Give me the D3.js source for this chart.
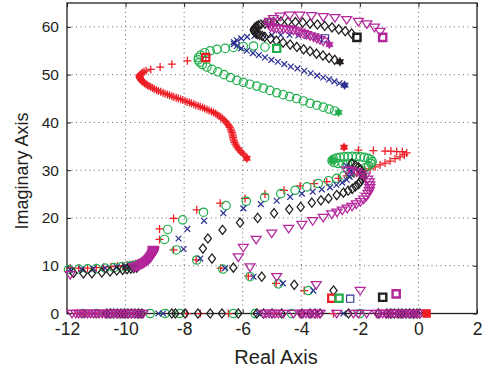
<!DOCTYPE html>
<html><head><meta charset="utf-8">
<script src="https://cdn.jsdelivr.net/npm/d3@7"></script>
<style>html,body{margin:0;padding:0;background:#fff;}svg{display:block;font-family:"Liberation Sans",Arial,Helvetica,sans-serif;}</style>
</head><body><svg id="c" width="484" height="373"></svg>
<script>
// ---------- DATA ----------
const xTicks = [-12,-10,-8,-6,-4,-2,0,2];
const yTicks = [0,10,20,30,40,50,60];

// red '+'
const redUp = [[-7.26,53.6],[-7.89,52.9],[-8.42,52.2],[-8.82,51.6],[-9.14,51.1],[-9.3,50.8],[-9.37,50.6],[-9.43,50.4],[-9.47,50.2],[-9.5,50.0],[-9.52,49.8],[-9.52,49.6],[-9.51,49.4],[-9.5,49.2],[-9.48,49.0],[-9.46,48.8],[-9.43,48.6],[-9.4,48.4],[-9.35,48.2],[-9.3,48.0],[-9.25,47.8],[-9.2,47.6],[-9.14,47.4],[-9.08,47.2],[-9.02,47.0],[-8.95,46.8],[-8.88,46.6],[-8.8,46.4],[-8.72,46.2],[-8.65,46.0],[-8.57,45.85],[-8.5,45.7],[-8.42,45.5],[-8.35,45.3],[-8.27,45.15],[-8.2,45.0],[-8.12,44.85],[-8.05,44.7],[-7.97,44.5],[-7.9,44.3],[-7.82,44.15],[-7.75,44.0],[-7.67,43.8],[-7.6,43.6],[-7.52,43.45],[-7.45,43.3],[-7.37,43.1],[-7.3,42.9],[-7.22,42.7],[-7.15,42.5],[-7.07,42.3],[-7.0,42.1],[-6.93,41.85],[-6.87,41.6],[-6.81,41.35],[-6.75,41.1],[-6.69,40.8],[-6.64,40.5],[-6.59,40.2],[-6.55,39.9],[-6.51,39.6],[-6.47,39.3],[-6.44,38.95],[-6.41,38.6],[-6.39,38.25],[-6.37,37.9],[-6.35,37.55],[-6.34,37.2],[-6.33,36.85],[-6.32,36.5],[-6.3,36.15],[-6.28,35.8],[-6.25,35.45],[-6.22,35.1],[-6.18,34.75],[-6.14,34.4],[-6.1,34.1],[-6.05,33.8],[-6.0,33.5],[-5.96,33.2]];
const redMid = [[-3.9,4.8],[-4.86,6.3],[-5.81,7.8],[-6.75,9.5],[-7.59,11.2],[-8.36,13.3],[-8.84,15.5],[-8.84,17.7],[-8.36,19.9],[-7.57,21.7],[-6.77,23.1],[-5.92,24.1],[-5.24,25.0],[-4.59,25.8],[-4.04,26.7],[-3.56,27.2],[-3.13,27.6],[-2.73,28.3],[-2.45,28.8],[-2.2,29.2],[-2.0,29.5],[-1.82,29.9],[-1.65,30.3],[-1.48,30.7],[-1.31,31.1],[-1.14,31.5],[-0.97,31.9],[-0.8,32.4],[-0.63,32.8],[-0.48,33.2],[-0.4,33.6],[-0.55,33.9],[-0.74,33.9],[-0.94,34.0],[-1.14,34.0],[-1.54,34.1],[-2.05,34.2]];
const redLeft = [[-11.89,9.5],[-11.6,9.5],[-11.3,9.5],[-11.0,9.6],[-10.75,9.7],[-10.5,9.8],[-10.28,9.9],[-10.1,10.0],[-9.95,10.1],[-9.85,10.2],[-9.75,10.3],[-9.66,10.4],[-9.58,10.5]];
const redReal = [-11.65,-11.52,-11.4,-11.28,-11.15,-11.02,-10.9,-10.78,-10.66,-10.55,-10.44,-10.33,-10.22,-10.1,-9.98,-9.86,-9.75,-9.64,-9.52,-9.42,-7.91,-7.45,-6.49,-4.84,-4.05,-2.9,-0.95,-0.75,-0.55,-0.35,-0.15];

// green 'o'
const greenUp = [[-5.24,55.8],[-5.63,56.0],[-5.98,55.9],[-6.32,55.7],[-6.6,55.5],[-6.88,55.3],[-7.11,55.0],[-7.3,54.6],[-7.44,54.1],[-7.51,53.6],[-7.52,53.1],[-7.47,52.6],[-7.38,52.1],[-7.22,51.6],[-7.05,51.1],[-6.85,50.6],[-6.64,50.0],[-6.42,49.4],[-6.2,48.8],[-5.98,48.4],[-5.76,48.0],[-5.52,47.6],[-5.3,47.2],[-5.07,46.7],[-4.84,46.2],[-4.62,45.8],[-4.4,45.4],[-4.16,45.0],[-3.93,44.5],[-3.7,44.0],[-3.47,43.6],[-3.25,43.2],[-3.05,42.8],[-2.86,42.4]];
const greenMid = [[-3.76,4.8],[-4.78,6.2],[-5.75,7.7],[-6.68,9.3],[-7.57,11.2],[-8.27,13.3],[-8.67,15.5],[-8.56,17.6],[-8.05,19.6],[-7.34,21.2],[-6.57,22.6],[-5.88,23.5],[-5.25,24.3],[-4.7,25.1],[-4.21,25.8],[-3.81,26.5],[-3.42,27.2],[-3.07,27.8],[-2.79,28.3],[-2.55,28.8],[-2.35,29.3],[-2.15,29.7],[-1.98,30.1],[-1.82,30.5],[-1.7,30.9],[-1.62,31.4],[-1.58,31.8],[-1.62,32.2],[-1.72,32.5],[-1.85,32.7],[-1.98,32.8],[-2.12,32.85],[-2.26,32.9],[-2.4,32.85],[-2.54,32.8],[-2.68,32.7],[-2.8,32.55],[-2.9,32.3],[-2.95,31.95],[-2.88,31.6],[-2.74,31.4],[-2.58,31.3],[-2.42,31.3],[-2.25,31.35]];
const greenLeft = [[-11.95,9.2],[-11.6,9.3],[-11.3,9.35],[-11.0,9.4],[-10.7,9.5],[-10.4,9.6],[-10.15,9.75],[-9.95,9.9],[-9.8,10.0],[-9.68,10.1],[-9.58,10.25],[-9.5,10.4]];
const greenReal = [-11.45,-11.0,-10.5,-10.0,-9.55,-9.16,-8.65,-8.15,-6.32,-5.57,-4.33,-2.0,-0.9,-0.6,-0.3];

// blue 'x'
const blueUp = [[-3.5,57.9],[-3.8,58.1],[-4.1,58.2],[-4.4,58.3],[-4.7,58.3],[-5.0,58.3],[-5.3,58.2],[-5.6,58.1],[-5.85,57.9],[-6.05,57.6],[-6.2,57.2],[-6.3,56.8],[-6.3,56.4],[-6.2,56.0],[-6.05,55.5],[-5.86,55.0],[-5.65,54.5],[-5.45,54.1],[-5.24,53.6],[-5.02,53.1],[-4.8,52.7],[-4.58,52.2],[-4.36,51.7],[-4.13,51.3],[-3.9,50.8],[-3.68,50.3],[-3.46,49.8],[-3.25,49.4],[-3.05,49.0],[-2.87,48.6],[-2.7,48.2]];
const blueMid = [[-3.59,4.8],[-4.63,6.3],[-5.63,7.7],[-6.6,9.5],[-7.45,11.5],[-8.02,13.5],[-8.19,15.7],[-7.89,17.7],[-7.32,19.4],[-6.66,21.0],[-5.98,22.0],[-5.38,22.9],[-4.84,23.6],[-4.38,24.4],[-3.98,25.1],[-3.61,25.5],[-3.3,26.0],[-3.02,26.4],[-2.8,26.9],[-2.6,27.4],[-2.45,28.0],[-2.35,28.6],[-2.3,29.2],[-2.3,29.8],[-2.35,30.4],[-2.45,30.9]];
const blueLeft = [[-11.9,9.2],[-11.5,9.3],[-11.1,9.4],[-10.7,9.5],[-10.3,9.7],[-10.0,9.9],[-9.8,10.05],[-9.65,10.2]];
const blueReal = [-11.5,-11.1,-10.7,-10.3,-9.9,-9.5,-8.88,-8.72,-5.46,-2.56,-0.8,-0.5,-0.2];

// black diamond
const blackUp = [[-2.28,58.6],[-2.5,59.1],[-2.72,59.5],[-2.95,59.9],[-3.2,60.2],[-3.45,60.5],[-3.7,60.7],[-3.95,60.9],[-4.2,61.0],[-4.45,61.1],[-4.7,61.1],[-4.95,61.0],[-5.1,60.9],[-5.24,60.7],[-5.38,60.5],[-5.46,60.3],[-5.52,60.1],[-5.57,59.9],[-5.6,59.7],[-5.62,59.45],[-5.62,59.2],[-5.59,58.95],[-5.55,58.7],[-5.49,58.5],[-5.42,58.3],[-5.33,58.1],[-5.25,57.9],[-5.05,57.5],[-4.85,57.1],[-4.62,56.7],[-4.38,56.3],[-4.15,55.8],[-3.92,55.3],[-3.7,54.9],[-3.48,54.4],[-3.26,54.0],[-3.05,53.5],[-2.86,53.1]];
const blackMid = [[-2.9,4.8],[-4.24,6.0],[-5.35,7.7],[-6.32,9.6],[-7.05,11.5],[-7.36,13.6],[-7.19,15.7],[-6.69,17.5],[-6.09,19.0],[-5.49,20.0],[-4.93,21.0],[-4.41,21.8],[-4.02,22.3],[-3.64,23.2],[-3.33,23.7],[-3.07,24.1],[-2.79,24.8],[-2.56,25.3],[-2.4,25.7],[-2.26,26.1],[-2.15,26.6],[-2.05,27.1],[-1.98,27.6],[-1.93,28.1],[-1.9,28.6],[-1.9,29.1],[-1.93,29.6],[-1.98,30.1],[-2.05,30.6],[-2.15,31.0],[-2.28,31.4]];
const blackLeft = [[-11.78,8.5],[-11.44,8.4],[-11.15,8.4],[-10.81,8.6],[-10.53,8.8],[-10.3,9.0],[-10.1,9.15],[-9.95,9.3],[-9.82,9.4],[-9.72,9.5],[-9.62,9.6]];
const blackReal = [-10.64,-10.52,-10.4,-10.28,-10.16,-10.04,-9.92,-9.8,-9.68,-9.56,-9.44,-8.42,-8.3,-7.97,-7.53,-7.11,-6.71,-6.15,-5.52,-5.29,-5.0,-4.67,-3.98,-3.7,-3.53,-3.36,-2.39,-1.37,-1.08,-0.95,-0.82,-0.69,-0.56,-0.43,-0.3,-0.17,-0.05,0.05];

// magenta triangle-down
const magUp = [[-1.31,59.0],[-1.5,59.9],[-1.76,60.6],[-2.05,61.1],[-2.45,61.5],[-2.85,61.9],[-3.25,62.1],[-3.65,62.3],[-4.05,62.4],[-4.4,62.4],[-4.72,62.2],[-4.95,61.7],[-5.08,61.1],[-5.12,60.5],[-5.05,60.0],[-4.95,59.85],[-4.85,59.7],[-4.72,59.65],[-4.6,59.6],[-4.49,59.55],[-4.38,59.5],[-4.27,59.3],[-4.15,59.1],[-4.04,58.85],[-3.93,58.6],[-3.82,58.35],[-3.7,58.1],[-3.58,57.85],[-3.47,57.6],[-3.36,57.3],[-3.25,57.0]];
const magMid = [[-1.99,4.8],[-3.49,6.0],[-4.84,7.7],[-5.75,9.7],[-6.15,11.8],[-5.98,13.8],[-5.54,15.5],[-5.01,16.8],[-4.43,17.8],[-3.98,18.6],[-3.61,19.4],[-3.25,20.1],[-2.96,20.8],[-2.78,21.2],[-2.6,21.6],[-2.43,22.0],[-2.27,22.4],[-2.12,22.9],[-1.98,23.4],[-1.87,23.9],[-1.78,24.5],[-1.72,25.1],[-1.68,25.7],[-1.66,26.3],[-1.66,26.9],[-1.68,27.5],[-1.73,28.1],[-1.82,28.7],[-1.95,29.2],[-2.1,29.6],[-2.28,29.9],[-2.45,30.0]];
const magLeft = [[-11.89,8.1],[-9.72,9.7],[-9.67,9.78],[-9.62,9.85],[-9.57,9.97],[-9.52,10.1],[-9.47,10.25],[-9.43,10.4],[-9.39,10.55],[-9.35,10.7],[-9.31,10.85],[-9.28,11.0],[-9.25,11.15],[-9.22,11.3],[-9.19,11.45],[-9.17,11.6],[-9.15,11.75],[-9.13,11.9],[-9.11,12.05],[-9.1,12.2],[-9.08,12.35],[-9.07,12.5],[-9.06,12.65],[-9.06,12.8],[-9.05,12.95],[-9.05,13.1],[-9.05,13.25],[-9.05,13.4]];
const magReal = [-11.83,-11.7,-11.6,-11.5,-11.4,-11.3,-11.2,-11.1,-11.0,-10.9,-10.8,-10.7,-10.6,-10.5,-10.4,-10.3,-10.2,-10.1,-10.0,-9.9,-9.8,-9.7,-9.6,-9.5,-9.4,-5.29,-5.2,-5.1,-5.0,-4.9,-4.78,-4.61,-4.27,-4.04,-3.94,-3.84,-3.74,-3.64,-3.54,-3.45,-3.36,-2.79,-2.22,-2.05,-1.77,-1.42,-1.32,-1.22,-1.12,-1.02,-0.92,-0.82,-0.72,-0.62,-0.52,-0.42,-0.32,-0.22,-0.12,-0.03,0.05];

// start squares and end stars
const redSquares = [[-7.26,53.6],[-2.96,3.2]];
const greenSquares = [[-4.84,55.5],[-2.71,3.2]];
const blueSquares = [[-3.19,57.6],[-2.33,3.1]];
const blackSquares = [[-2.1,57.8],[-1.22,3.4]];
const magSquares = [[-1.22,57.8],[-0.76,4.1]];
const redFilledSquares = [[0.28,0]];
const redStars = [[-5.86,32.5],[-2.54,34.8]];
const greenStars = [[-2.73,42.1],[-2.96,32.1]];
const blueStars = [[-2.52,47.8]];
const blackStars = [[-2.68,52.7]];
const magStars = [[-3.04,56.3]];

// ---------- CHART ----------
const L=67, R=477, T=3, B=313.5;
const svg = d3.select('#c');
const x = d3.scaleLinear().domain([-12,2]).range([L,R]);
const y = d3.scaleLinear().domain([0,65]).range([B,T]);
const ink = '#231f20';
const FONT = '"Liberation Sans",Arial,Helvetica,sans-serif';
const C = {red:'#ed1c24', green:'#1fae4b', blue:'#2e3192', black:'#231f20', mag:'#b3279b'};

// grid
const grid = svg.append('g');
grid.selectAll('line.gx').data(xTicks.filter(v=>v>-12&&v<2)).join('line')
  .attr('x1',d=>x(d)).attr('x2',d=>x(d)).attr('y1',T).attr('y2',B)
  .attr('stroke','#555').attr('stroke-width',0.9).attr('stroke-dasharray','1,3.5');
grid.selectAll('line.gy').data(yTicks.filter(v=>v>0)).join('line')
  .attr('y1',d=>y(d)).attr('y2',d=>y(d)).attr('x1',L).attr('x2',R)
  .attr('stroke','#555').attr('stroke-width',0.9).attr('stroke-dasharray','1,3.5');

// axes
const xa = svg.append('g').attr('transform',`translate(0,${B})`)
  .call(d3.axisBottom(x).tickValues(xTicks).tickSize(-4).tickPadding(9).tickFormat(d3.format('d')));
const ya = svg.append('g').attr('transform',`translate(${L},0)`)
  .call(d3.axisLeft(y).tickValues(yTicks).tickSize(-4).tickPadding(8).tickFormat(d3.format('d')));
const xt = svg.append('g').attr('transform',`translate(0,${T})`)
  .call(d3.axisTop(x).tickValues(xTicks).tickSize(-4).tickFormat(''));
const yr = svg.append('g').attr('transform',`translate(${R},0)`)
  .call(d3.axisRight(y).tickValues(yTicks).tickSize(-4).tickFormat(''));
[xa,ya,xt,yr].forEach(g=>{g.attr('font-family',FONT); g.select('.domain').remove(); g.selectAll('line').attr('stroke',ink).attr('stroke-width',1);});
xa.selectAll('text').attr('font-size',17.5).attr('fill',ink).text(d=>d<0?'-'+Math.abs(d):d);
ya.selectAll('text').attr('font-size',15.5).attr('fill',ink).text(d=>d);

// frame
svg.append('rect').attr('x',L).attr('y',T).attr('width',R-L).attr('height',B-T)
  .attr('fill','none').attr('stroke',ink).attr('stroke-width',1.3);

// labels
svg.append('text').attr('x',276).attr('y',364).attr('text-anchor','middle').attr('font-family',FONT)
  .attr('font-size',20).attr('fill',ink).text('Real Axis');
svg.append('text').attr('transform','translate(28,171) rotate(-90)').attr('text-anchor','middle').attr('font-family',FONT)
  .attr('font-size',18).attr('fill',ink).text('Imaginary Axis');

// markers
const plot = svg.append('g');
function pathFor(type){
  switch(type){
    case 'plus': return 'M-4,0H4M0,-4V4';
    case 'x': return 'M-2.9,-2.9L2.9,2.9M-2.9,2.9L2.9,-2.9';
    case 'diamond': return 'M0,-4.6L3.6,0L0,4.6L-3.6,0Z';
    case 'tri': return 'M-5,-3.2L5,-3.2L0,4.4Z';
    case 'square': return 'M-3.6,-3.6H3.6V3.6H-3.6Z';
    case 'hex': {
      const r=4.4;
      const pt=a=>[r*Math.sin(a*Math.PI/180),-r*Math.cos(a*Math.PI/180)];
      return 'M'+[0,120,240].map(pt).join('L')+'Z M'+[60,180,300].map(pt).join('L')+'Z';
    }
  }
}
function draw(pts, type, color, opts={}){
  plot.append('g').selectAll('path').data(pts).join('path')
    .attr('transform',d=>`translate(${x(d[0])},${y(d[1])})`)
    .attr('d',pathFor(type))
    .attr('fill',opts.fill||'none')
    .attr('stroke',color)
    .attr('stroke-width',opts.sw||1.25);
}
function drawCircles(pts,color){
  plot.append('g').selectAll('circle').data(pts).join('circle')
    .attr('cx',d=>x(d[0])).attr('cy',d=>y(d[1])).attr('r',4.2)
    .attr('fill','none').attr('stroke',color).attr('stroke-width',1.2);
}
const onAxis = arr => arr.map(v=>[v,0]);

// real axis
draw(onAxis(redReal),'plus',C.red);
drawCircles(onAxis(greenReal),C.green);
draw(onAxis(blueReal),'x',C.blue);
draw(onAxis(blackReal),'diamond',C.black);
draw(onAxis(magReal),'tri',C.mag);

// left branches
draw(redLeft,'plus',C.red);
drawCircles(greenLeft,C.green);
draw(blueLeft,'x',C.blue);
draw(blackLeft,'diamond',C.black);
draw(magLeft,'tri',C.mag);

// middle branches
draw(redMid,'plus',C.red);
drawCircles(greenMid,C.green);
draw(blueMid,'x',C.blue);
draw(blackMid,'diamond',C.black);
draw(magMid,'tri',C.mag);

// upper branches
draw(redUp,'plus',C.red);
drawCircles(greenUp,C.green);
draw(blueUp,'x',C.blue);
draw(blackUp,'diamond',C.black);
draw(magUp,'tri',C.mag);

// squares (start)
draw(redSquares,'square',C.red,{sw:2.2});
draw(greenSquares,'square',C.green,{sw:2.2});
draw(blueSquares,'square',C.blue,{sw:1.1});
draw(blackSquares,'square',C.black,{sw:2.4});
draw(magSquares,'square',C.mag,{sw:2.4});
draw(redFilledSquares,'square',C.red,{sw:1.2,fill:C.red});

// stars (end)
draw(redStars,'hex',C.red,{fill:C.red,sw:0.5});
draw(greenStars,'hex',C.green,{fill:C.green,sw:0.5});
draw(blueStars,'hex',C.blue,{fill:C.blue,sw:0.5});
draw(blackStars,'hex',C.black,{fill:C.black,sw:0.5});
draw(magStars,'hex',C.mag,{fill:C.mag,sw:0.5});
</script></body></html>
